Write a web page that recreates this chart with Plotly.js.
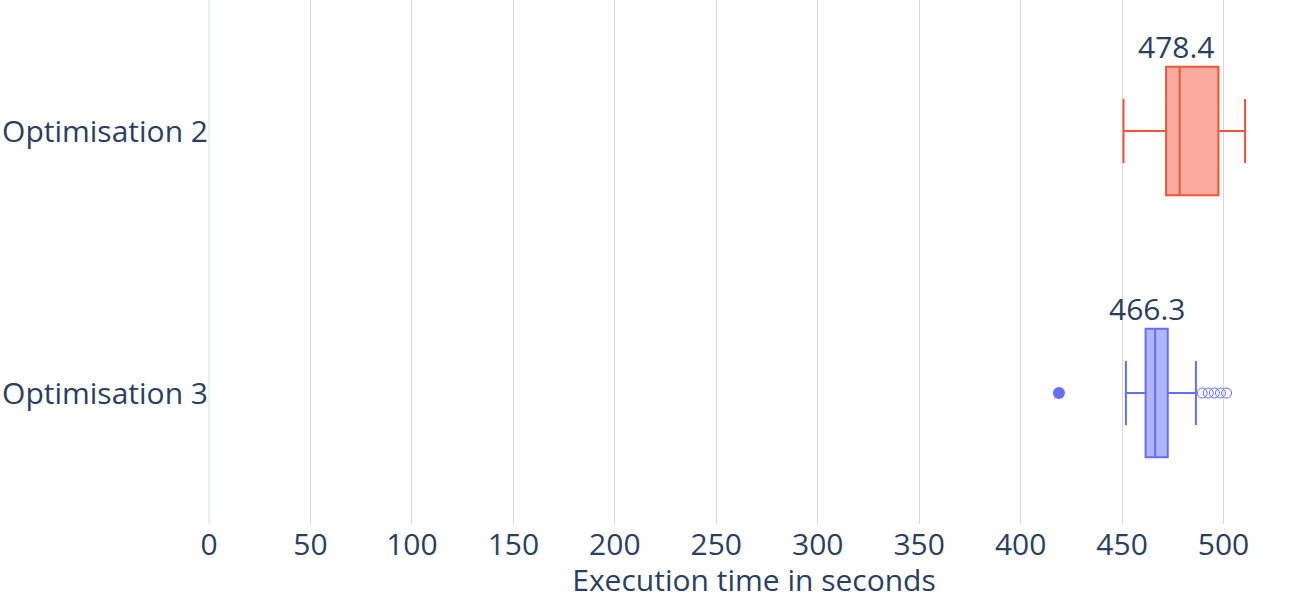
<!DOCTYPE html>
<html>
<head>
<meta charset="utf-8">
<script src="https://cdn.plot.ly/plotly-3.0.1.min.js"></script>
<style>html,body{margin:0;padding:0;background:#fff}#chart{width:1300px;height:600px}</style>
</head>
<body>
<div id="chart"></div>
<script>
const categories = ['Optimisation 3', 'Optimisation 2'];
const q1Values = [461.6, 471.7];
const medianValues = [466.3, 478.4];
const q3Values = [472.5, 497.5];
const lowerFence = [451.9, 450.7];
const upperFence = [486.4, 510.6];
const opt3FilledOutliers = [418.9];
const opt3OpenOutliers = [489.5, 492.5, 495.5, 498.5, 501.5];
const medianLabels = ['466.3', '478.4'];
const xTicks = [0, 50, 100, 150, 200, 250, 300, 350, 400, 450, 500];

const colors = ['#636EFA', '#EF553B'];
const fills = ['rgba(99,110,250,0.5)', 'rgba(239,85,59,0.5)'];

const traces = categories.map((c, i) => ({
  type: 'box',
  orientation: 'h',
  name: c,
  y: [c],
  q1: [q1Values[i]],
  median: [medianValues[i]],
  q3: [q3Values[i]],
  lowerfence: [lowerFence[i]],
  upperfence: [upperFence[i]],
  boxpoints: false,
  line: {color: colors[i], width: 2},
  fillcolor: fills[i],
  showlegend: false,
  hoverinfo: 'x'
}));

traces.push({
  type: 'scatter', mode: 'markers',
  x: opt3FilledOutliers, y: opt3FilledOutliers.map(() => categories[0]),
  marker: {color: colors[0], size: 12},
  showlegend: false
});
traces.push({
  type: 'scatter', mode: 'markers',
  x: opt3OpenOutliers, y: opt3OpenOutliers.map(() => categories[0]),
  marker: {color: colors[0], size: 10, symbol: 'circle-open', line: {width: 1}},
  showlegend: false
});

const annotations = categories.map((c, i) => ({
  x: medianValues[i], y: c, xref: 'x', yref: 'y',
  text: medianLabels[i], showarrow: false,
  yanchor: 'bottom', yshift: 62, xshift: i === 0 ? -8 : -3,
  font: {size: 30, color: '#2a3f5f'}
}));

const layout = {
  width: 1300, height: 600,
  paper_bgcolor: '#fff', plot_bgcolor: '#fff',
  font: {family: '"Open Sans", verdana, arial, sans-serif', size: 30, color: '#2a3f5f'},
  margin: {l: 209, r: 1, t: 0, b: 76, autoexpand: false},
  showlegend: false,
  xaxis: {
    range: [0, 537.2],
    tickvals: xTicks,
    ticktext: xTicks.map(String),
    showgrid: true, gridcolor: '#d9d9d9', gridwidth: 1,
    zeroline: true, zerolinecolor: '#EBF0F8', zerolinewidth: 2,
    showline: false, ticks: '',
    title: {text: 'Execution time in seconds', font: {size: 30}, standoff: 4},
    automargin: false
  },
  yaxis: {
    type: 'category',
    categoryarray: categories, categoryorder: 'array',
    range: [-0.5, 1.5],
    showgrid: false, zeroline: false, showline: false, ticks: '',
    automargin: false
  },
  annotations: annotations
};

Plotly.newPlot('chart', traces, layout, {displayModeBar: false, staticPlot: true});
</script>
</body>
</html>
